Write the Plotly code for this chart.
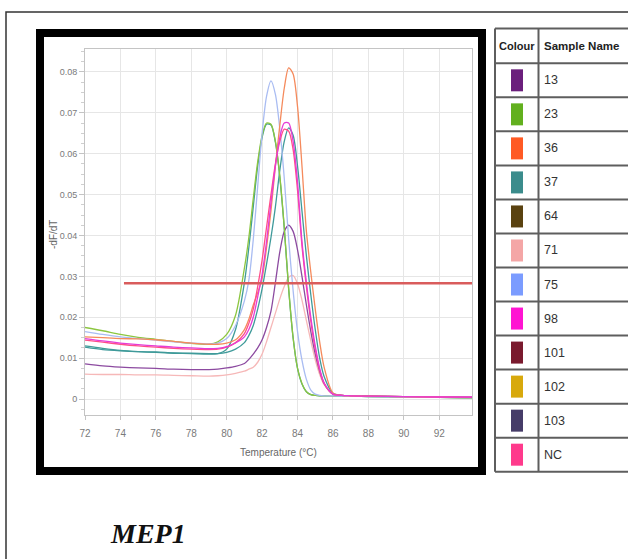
import plotly.graph_objects as go

# ---------------- data ----------------
temperature = [72, 73, 74, 75, 76, 77, 78, 79, 79.5, 80, 80.5, 81, 81.25, 81.5, 81.75, 82,
               82.25, 82.5, 82.75, 83, 83.25, 83.5, 83.75, 84, 84.25, 84.5, 84.75, 85,
               85.25, 85.5, 86, 86.5, 87, 88, 90, 92, 93.85]

s71_pink = [0.0061, 0.0060, 0.0060, 0.0059, 0.0059, 0.0058, 0.0057, 0.0056,
            0.0057, 0.0059, 0.0063, 0.0068, 0.0073, 0.0078, 0.0090, 0.0110,
            0.0140, 0.0175, 0.0210, 0.0245, 0.0275, 0.0298, 0.0302, 0.0282,
            0.0242, 0.0192, 0.0142, 0.0096, 0.0060, 0.0035, 0.0012,
            0.0009, 0.0008, 0.0007, 0.0006, 0.0005, 0.0004]
s13_purple = [0.0086, 0.0081, 0.0078, 0.0076, 0.0075, 0.0073, 0.0072, 0.0072,
              0.0073, 0.0076, 0.0080, 0.0087, 0.0097, 0.0110, 0.0125, 0.0145,
              0.0175, 0.0215, 0.0285, 0.0360, 0.0410, 0.0425, 0.0410, 0.0365,
              0.0300, 0.0230, 0.0165, 0.0110, 0.0068, 0.0038, 0.0012,
              0.0009, 0.0008, 0.0007, 0.0006, 0.0005, 0.0004]
s37a_teal = [0.0130, 0.0124, 0.0119, 0.0116, 0.0114, 0.0112, 0.0111, 0.0110,
             0.0111, 0.0122, 0.0170, 0.0285, 0.0370, 0.0470, 0.0570, 0.0640,
             0.0672, 0.0670, 0.0628, 0.0542, 0.0418, 0.0268, 0.0150, 0.0075,
             0.0037, 0.0018, 0.0011, 0.0009, 0.0008, 0.0008, 0.0008,
             0.0007, 0.0007, 0.0006, 0.0005, 0.0004, 0.0003]
s37b_teal = [0.0127, 0.0121, 0.0118, 0.0116, 0.0115, 0.0113, 0.0112, 0.0111,
             0.0111, 0.0114, 0.0122, 0.0138, 0.0155, 0.0180, 0.0220, 0.0270,
             0.0330, 0.0395, 0.0470, 0.0560, 0.0630, 0.0663, 0.0645, 0.0570,
             0.0460, 0.0350, 0.0255, 0.0170, 0.0100, 0.0055, 0.0014,
             0.0009, 0.0008, 0.0007, 0.0006, 0.0005, 0.0004]
s23_green = [0.0175, 0.0167, 0.0158, 0.0151, 0.0146, 0.0141, 0.0136, 0.0134,
             0.0140, 0.0158, 0.0205, 0.0320, 0.0395, 0.0490, 0.0580, 0.0645,
             0.0675, 0.0672, 0.0630, 0.0545, 0.0420, 0.0270, 0.0150, 0.0075,
             0.0038, 0.0018, 0.0011, 0.0009, 0.0008, 0.0008, 0.0008,
             0.0007, 0.0007, 0.0006, 0.0005, 0.0004, 0.0002]
s75_blue = [0.0165, 0.0158, 0.0152, 0.0148, 0.0144, 0.0140, 0.0137, 0.0135,
            0.0137, 0.0148, 0.0180, 0.0240, 0.0290, 0.0390, 0.0520, 0.0650,
            0.0740, 0.0778, 0.0745, 0.0660, 0.0540, 0.0390, 0.0265, 0.0165,
            0.0095, 0.0048, 0.0022, 0.0012, 0.0009, 0.0008, 0.0008,
            0.0007, 0.0007, 0.0006, 0.0005, 0.0004, 0.0003]
s36_orange = [0.0152, 0.0150, 0.0148, 0.0147, 0.0145, 0.0141, 0.0137, 0.0134,
              0.0134, 0.0137, 0.0145, 0.0170, 0.0195, 0.0230, 0.0260, 0.0295,
              0.0370, 0.0460, 0.0570, 0.0670, 0.0760, 0.0810, 0.0795, 0.0715,
              0.0570, 0.0410, 0.0310, 0.0220, 0.0140, 0.0078, 0.0015,
              0.0009, 0.0008, 0.0007, 0.0006, 0.0005, 0.0004]
sNC_pink = [0.0144, 0.0139, 0.0134, 0.0130, 0.0127, 0.0124, 0.0122, 0.0121,
            0.0122, 0.0127, 0.0138, 0.0160, 0.0185, 0.0220, 0.0275, 0.0340,
            0.0420, 0.0500, 0.0575, 0.0630, 0.0660, 0.0655, 0.0610, 0.0510,
            0.0375, 0.0275, 0.0190, 0.0122, 0.0070, 0.0038, 0.0012,
            0.0009, 0.0008, 0.0007, 0.0006, 0.0005, 0.0004]
s98_magenta = [0.0148, 0.0142, 0.0137, 0.0133, 0.0130, 0.0127, 0.0125, 0.0123,
               0.0124, 0.0128, 0.0137, 0.0152, 0.0170, 0.0200, 0.0250, 0.0305,
               0.0385, 0.0480, 0.0570, 0.0640, 0.0675, 0.0675, 0.0630, 0.0530,
               0.0385, 0.0285, 0.0200, 0.0130, 0.0075, 0.0040, 0.0012,
               0.0009, 0.0008, 0.0007, 0.0006, 0.0005, 0.0005]

threshold_x = [74.2, 93.85]
threshold_y = [0.0283, 0.0283]

x_tickvals = [72, 74, 76, 78, 80, 82, 84, 86, 88, 90, 92]
y_tickvals = [0, 0.01, 0.02, 0.03, 0.04, 0.05, 0.06, 0.07, 0.08]
y_ticktext = ["0", "0.01", "0.02", "0.03", "0.04", "0.05", "0.06", "0.07", "0.08"]

sample_names = ["13", "23", "36", "37", "64", "71", "75", "98", "101", "102", "103", "NC"]
sample_colours = ["#6b1f7c", "#62b01e", "#ff5a24", "#3b8c8c", "#5a4210", "#f4a6a6",
                  "#7b9cff", "#ff14d2", "#7a1a2e", "#d8a90c", "#463c68", "#ff3a8c"]

# ---------------- figure ----------------
W, H = 628, 559
L, R, T, B = 85, 156, 49, 144
PW, PH = W - L - R, H - T - B


def fx(px):
    return (px - L) / PW


def fy(py):
    return (H - B - py) / PH


curves = [
    ("71", s71_pink, "#f6b8b8"),
    ("13", s13_purple, "#8c4aa0"),
    ("37", s37a_teal, "#3f9c98"),
    ("37", s37b_teal, "#3f9a9a"),
    ("23", s23_green, "#8cc640"),
    ("75", s75_blue, "#a9bcf2"),
    ("36", s36_orange, "#f58a5c"),
    ("NC", sNC_pink, "#ff4d88"),
    ("98", s98_magenta, "#e63cd6"),
]

fig = go.Figure()
for name, ys, col in curves:
    fig.add_trace(go.Scatter(x=temperature, y=ys, name=name, mode="lines",
                             line=dict(color=col, width=1.3, shape="spline", smoothing=0.8),
                             hoverinfo="skip"))

fig.add_trace(go.Scatter(x=threshold_x, y=threshold_y, mode="lines",
                         line=dict(color="#d95c5c", width=2.6), hoverinfo="skip"))

sans = "Liberation Sans, Arial, sans-serif"

fig.update_layout(
    width=W, height=H,
    margin=dict(l=L, r=R, t=T, b=B),
    paper_bgcolor="white", plot_bgcolor="white",
    showlegend=False,
    xaxis=dict(range=[72, 93.85], tickvals=x_tickvals, showgrid=True,
               gridcolor="#e6e6e6", gridwidth=1, showline=True, linecolor="#c4c4c4",
               linewidth=1, mirror=True, ticks="outside", ticklen=4, tickcolor="#c4c4c4",
               tickfont=dict(family=sans, size=10, color="#7a7a7a"),
               ticklabelstandoff=5, zeroline=False),
    yaxis=dict(range=[-0.0039, 0.0856], tickvals=y_tickvals, ticktext=y_ticktext,
               showgrid=True, gridcolor="#e6e6e6", gridwidth=1, showline=True,
               linecolor="#c4c4c4", linewidth=1, mirror=True, ticks="outside",
               ticklen=5, tickcolor="#c4c4c4",
               minor=dict(dtick=0.0025, ticks="outside", ticklen=3, tickcolor="#cfcfcf",
                          showgrid=False),
               tickfont=dict(family=sans, size=9, color="#7a7a7a"),
               zeroline=False),
)

shapes = []
annotations = []

# thin outer border (top and left)
shapes.append(dict(type="path", xref="paper", yref="paper",
                   path=f"M {fx(6)} {fy(565)} L {fx(6)} {fy(12)} L {fx(640)} {fy(12)}",
                   line=dict(color="#333333", width=1.5)))
# thick black frame
shapes.append(dict(type="rect", xref="paper", yref="paper",
                   x0=fx(40), x1=fx(482), y0=fy(471), y1=fy(33),
                   line=dict(color="black", width=8), layer="above"))

# axis titles
annotations.append(dict(xref="paper", yref="paper", x=fx(53), y=fy(235), text="-dF/dT",
                        xanchor="center", yanchor="middle",
                        textangle=-90, showarrow=False,
                        font=dict(family=sans, size=10, color="#666666")))
annotations.append(dict(xref="paper", yref="paper", x=fx(278), y=fy(453),
                        xanchor="center", yanchor="middle",
                        text="Temperature (°C)", showarrow=False,
                        font=dict(family=sans, size=10, color="#666666")))

# legend table
tab_left, tab_mid, tab_right = 495, 538.5, 640
tab_top, head_bot, tab_bot = 28.5, 63.3, 471.7
row_h = (tab_bot - head_bot) / len(sample_names)
line_col = "#5e5e5e"
hlines = [tab_top, head_bot] + [head_bot + row_h * (i + 1) for i in range(len(sample_names))]
for yy in hlines:
    shapes.append(dict(type="line", xref="paper", yref="paper", x0=fx(tab_left), x1=fx(tab_right),
                       y0=fy(yy), y1=fy(yy), line=dict(color=line_col, width=2)))
for xx in (tab_left, tab_mid):
    shapes.append(dict(type="line", xref="paper", yref="paper", x0=fx(xx), x1=fx(xx),
                       y0=fy(tab_top), y1=fy(tab_bot), line=dict(color=line_col, width=2)))

annotations.append(dict(xref="paper", yref="paper", x=fx((tab_left + tab_mid) / 2 + 0.5),
                        y=fy((tab_top + head_bot) / 2), text="<b>Colour</b>", showarrow=False,
                        xanchor="center", yanchor="middle",
                        font=dict(family=sans, size=11, color="#222222")))
annotations.append(dict(xref="paper", yref="paper", x=fx(541.5), xanchor="left",
                        y=fy((tab_top + head_bot) / 2), yanchor="middle",
                        text="<b>Sample Name</b>", showarrow=False,
                        font=dict(family=sans, size=11.5, color="#222222")))

for i, (nm, col) in enumerate(zip(sample_names, sample_colours)):
    cy = head_bot + row_h * (i + 0.5)
    shapes.append(dict(type="rect", xref="paper", yref="paper",
                       x0=fx(511), x1=fx(523), y0=fy(cy + 11), y1=fy(cy - 11),
                       fillcolor=col, line=dict(width=0)))
    annotations.append(dict(xref="paper", yref="paper", x=fx(542), xanchor="left",
                            y=fy(cy), yanchor="middle", text=nm, showarrow=False,
                            font=dict(family=sans, size=12.5, color="#333333")))

# caption
annotations.append(dict(xref="paper", yref="paper", x=fx(108), xanchor="left",
                        y=fy(533), yanchor="middle",
                        text="<b><i>MEP1</i></b>", showarrow=False,
                        font=dict(family="Liberation Serif, DejaVu Serif, serif", size=28,
                                  color="#111111")))

fig.update_layout(shapes=shapes, annotations=annotations)
fig.write_html("out.html")
